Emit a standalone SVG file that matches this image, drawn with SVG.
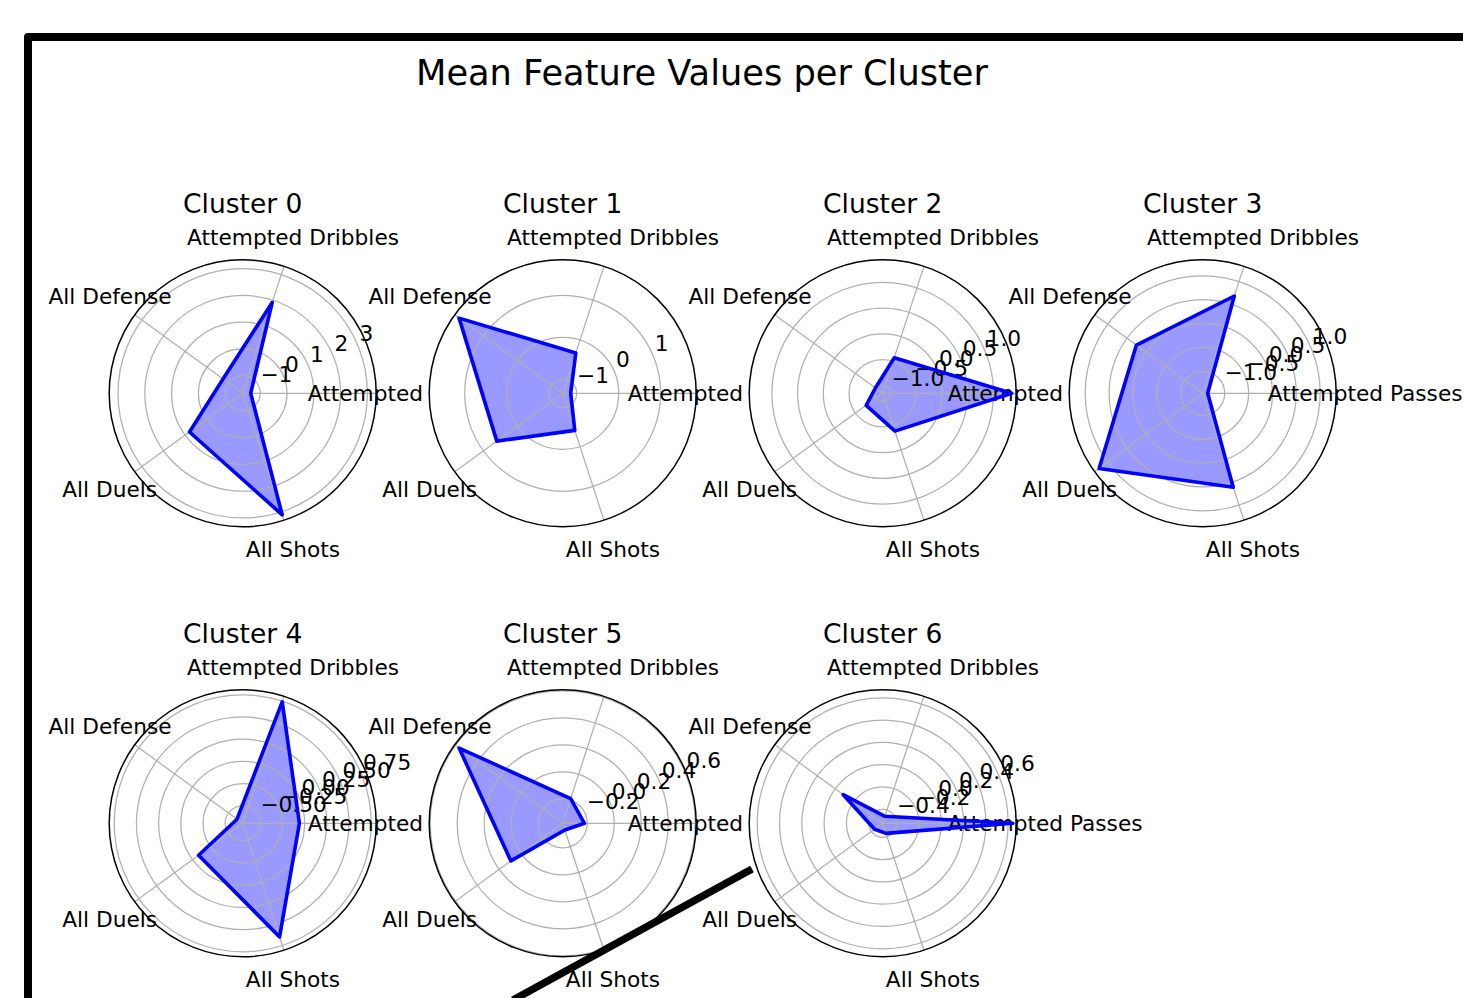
<svg xmlns="http://www.w3.org/2000/svg" xmlns:xlink="http://www.w3.org/1999/xlink" width="1463" height="998" viewBox="0 0 1463 998">
  <style>
    text { font-family: "DejaVu Sans", "Liberation Sans", sans-serif; fill: #000; }
    .t { font-size: 21.7px; }
    .ttl { font-size: 26.5px; text-anchor: middle; }
    .sup { font-size: 35.2px; text-anchor: middle; }
    .mid { text-anchor: middle; }
    .bg { fill: #ffffff; }
    .grid { fill: none; stroke: #b0b0b0; stroke-width: 1.25; }
    .spine { fill: none; stroke: #000; stroke-width: 1.5; }
    .area { fill: #0000ff; fill-opacity: 0.4; stroke: none; }
    .edge { fill: none; stroke: #0000ff; stroke-width: 3.6; stroke-linejoin: round; }
    .frame { fill: none; stroke: #000; stroke-width: 8; stroke-linejoin: round; }
  </style>
  <defs>
    <!-- five angular grid lines at 0, 72, 144, 216, 288 degrees -->
    <path id="spokes" class="grid" d="M0 0H133.5M0 0L41.25 -126.97M0 0L-108 -78.47M0 0L-108 78.47M0 0L41.25 126.97"/>
    <g id="axis-labels">
      <text class="t mid" x="50.3" y="-148.5">Attempted Dribbles</text>
      <text class="t mid" x="-132.7" y="-89.5">All Defense</text>
      <text class="t mid" x="-133" y="103.5">All Duels</text>
      <text class="t mid" x="50.3" y="163.5">All Shots</text>
      <text class="t" x="65" y="7.5">Attempted Passes</text>
    </g>
  </defs>

  <rect width="1463" height="998" fill="#ffffff"/>

  <text class="sup" x="702" y="85">Mean Feature Values per Cluster</text>

  <!-- Cluster 0 -->
  <g id="cluster-0" transform="translate(242.7 393.3)">
    <circle class="bg" r="133.5"/>
    <polygon class="area" points="8,0 29.5,-90.8 -19.7,-14.3 -53.2,38.7 39.5,121.5"/>
    <g class="grid">
      <circle r="17.5"/><circle r="44.3"/><circle r="71.1"/><circle r="97.9"/><circle r="124.7"/>
    </g>
    <use xlink:href="#spokes"/>
    <circle class="spine" r="133.5"/>
    <text class="ttl" x="0" y="-180">Cluster 0</text>
    <use xlink:href="#axis-labels"/>
    <g class="t">
      <text x="17.7" y="-11.2">−1</text><text x="42.4" y="-21.5">0</text><text x="67.2" y="-31.7">1</text><text x="91.9" y="-42">2</text><text x="116.7" y="-52.2">3</text>
    </g>
    <polygon class="edge" points="8,0 29.5,-90.8 -19.7,-14.3 -53.2,38.7 39.5,121.5"/>
  </g>

  <!-- Cluster 1 -->
  <g id="cluster-1" transform="translate(562.7 393.3)">
    <circle class="bg" r="133.5"/>
    <polygon class="area" points="8,0 13.1,-40.3 -103.6,-75.2 -65.9,47.8 12.1,37.1"/>
    <g class="grid">
      <circle r="14"/><circle r="56"/><circle r="98"/>
    </g>
    <use xlink:href="#spokes"/>
    <circle class="spine" r="133.5"/>
    <text class="ttl" x="0" y="-180">Cluster 1</text>
    <use xlink:href="#axis-labels"/>
    <g class="t">
      <text x="14.4" y="-9.9">−1</text><text x="53.2" y="-25.9">0</text><text x="92" y="-42">1</text>
    </g>
    <polygon class="edge" points="8,0 13.1,-40.3 -103.6,-75.2 -65.9,47.8 12.1,37.1"/>
  </g>

  <!-- Cluster 2 -->
  <g id="cluster-2" transform="translate(882.7 393.3)">
    <circle class="bg" r="133.5"/>
    <polygon class="area" points="129,0 11.6,-35.6 -7.3,-5.3 -16.5,12 12.3,37.8"/>
    <g class="grid">
      <circle r="8"/><circle r="33.7"/><circle r="59.4"/><circle r="85.1"/><circle r="110.8"/>
    </g>
    <use xlink:href="#spokes"/>
    <circle class="spine" r="133.5"/>
    <text class="ttl" x="0" y="-180">Cluster 2</text>
    <use xlink:href="#axis-labels"/>
    <g class="t">
      <text x="8.9" y="-7.6">−1.0</text><text x="32.6" y="-17.4">−0.5</text><text x="56.4" y="-27.2">0.0</text><text x="80.1" y="-37.1">0.5</text><text x="103.9" y="-46.9">1.0</text>
    </g>
    <polygon class="edge" points="129,0 11.6,-35.6 -7.3,-5.3 -16.5,12 12.3,37.8"/>
  </g>

  <!-- Cluster 3 -->
  <g id="cluster-3" transform="translate(1202.7 393.3)">
    <circle class="bg" r="133.5"/>
    <polygon class="area" points="5,0 31.6,-97.3 -66.3,-48.2 -103.6,75.2 30.5,93.9"/>
    <g class="grid">
      <circle r="22"/><circle r="45.9"/><circle r="69.8"/><circle r="93.6"/><circle r="117.5"/>
    </g>
    <use xlink:href="#spokes"/>
    <circle class="spine" r="133.5"/>
    <text class="ttl" x="0" y="-180">Cluster 3</text>
    <use xlink:href="#axis-labels"/>
    <g class="t">
      <text x="21.8" y="-12.9">−1.0</text><text x="43.9" y="-22.1">−0.5</text><text x="66" y="-31.2">0.0</text><text x="88" y="-40.3">0.5</text><text x="110.1" y="-49.5">1.0</text>
    </g>
    <polygon class="edge" points="5,0 31.6,-97.3 -66.3,-48.2 -103.6,75.2 30.5,93.9"/>
  </g>

  <!-- Cluster 4 -->
  <g id="cluster-4" transform="translate(242.7 823.3)">
    <circle class="bg" r="133.5"/>
    <polygon class="area" points="56.7,0 39.5,-121.5 -5.7,-4.1 -44.1,32 36.9,113.6"/>
    <g class="grid">
      <circle r="17.5"/><circle r="39.7"/><circle r="61.9"/><circle r="84.1"/><circle r="106.3"/><circle r="128.5"/>
    </g>
    <use xlink:href="#spokes"/>
    <circle class="spine" r="133.5"/>
    <text class="ttl" x="0" y="-180">Cluster 4</text>
    <use xlink:href="#axis-labels"/>
    <g class="t">
      <text x="17.7" y="-11.2">−0.50</text><text x="38.2" y="-19.7">−0.25</text><text x="58.7" y="-28.2">0.00</text><text x="79.2" y="-36.7">0.25</text><text x="99.7" y="-45.2">0.50</text><text x="120.2" y="-53.7">0.75</text>
    </g>
    <polygon class="edge" points="56.7,0 39.5,-121.5 -5.7,-4.1 -44.1,32 36.9,113.6"/>
  </g>

  <!-- Cluster 5 -->
  <g id="cluster-5" transform="translate(562.7 823.3)">
    <circle class="bg" r="133.5"/>
    <polygon class="area" points="21.7,0 8,-24.7 -103.6,-75.2 -51.8,37.6 2.2,6.7"/>
    <g class="grid">
      <circle r="24.5"/><circle r="51.5"/><circle r="78.5"/><circle r="105.5"/><circle r="132.5"/>
    </g>
    <use xlink:href="#spokes"/>
    <circle class="spine" r="133.5"/>
    <text class="ttl" x="0" y="-180">Cluster 5</text>
    <use xlink:href="#axis-labels"/>
    <g class="t">
      <text x="24.1" y="-13.9">−0.2</text><text x="49.1" y="-24.2">0.0</text><text x="74" y="-34.5">0.2</text><text x="99" y="-44.9">0.4</text><text x="123.9" y="-55.2">0.6</text>
    </g>
    <polygon class="edge" points="21.7,0 8,-24.7 -103.6,-75.2 -51.8,37.6 2.2,6.7"/>
  </g>

  <!-- Cluster 6 -->
  <g id="cluster-6" transform="translate(882.7 823.3)">
    <circle class="bg" r="133.5"/>
    <polygon class="area" points="130,0 2.3,-7 -39.6,-28.7 -8.1,5.9 3.3,10.1"/>
    <g class="grid">
      <circle r="14"/><circle r="36.3"/><circle r="58.6"/><circle r="80.9"/><circle r="103.2"/><circle r="125.5"/>
    </g>
    <use xlink:href="#spokes"/>
    <circle class="spine" r="133.5"/>
    <text class="ttl" x="0" y="-180">Cluster 6</text>
    <use xlink:href="#axis-labels"/>
    <g class="t">
      <text x="14.4" y="-9.9">−0.4</text><text x="35" y="-18.4">−0.2</text><text x="55.6" y="-26.9">0.0</text><text x="76.2" y="-35.5">0.2</text><text x="96.8" y="-44">0.4</text><text x="117.5" y="-52.5">0.6</text>
    </g>
    <polygon class="edge" points="130,0 2.3,-7 -39.6,-28.7 -8.1,5.9 3.3,10.1"/>
  </g>

  <!-- outer frame and stray stroke -->
  <g id="connectors">
    <path class="frame" d="M28 1002V37H1467"/>
    <line x1="752" y1="869" x2="513" y2="1000" stroke="#000" stroke-width="7.5"/>
  </g>
</svg>
